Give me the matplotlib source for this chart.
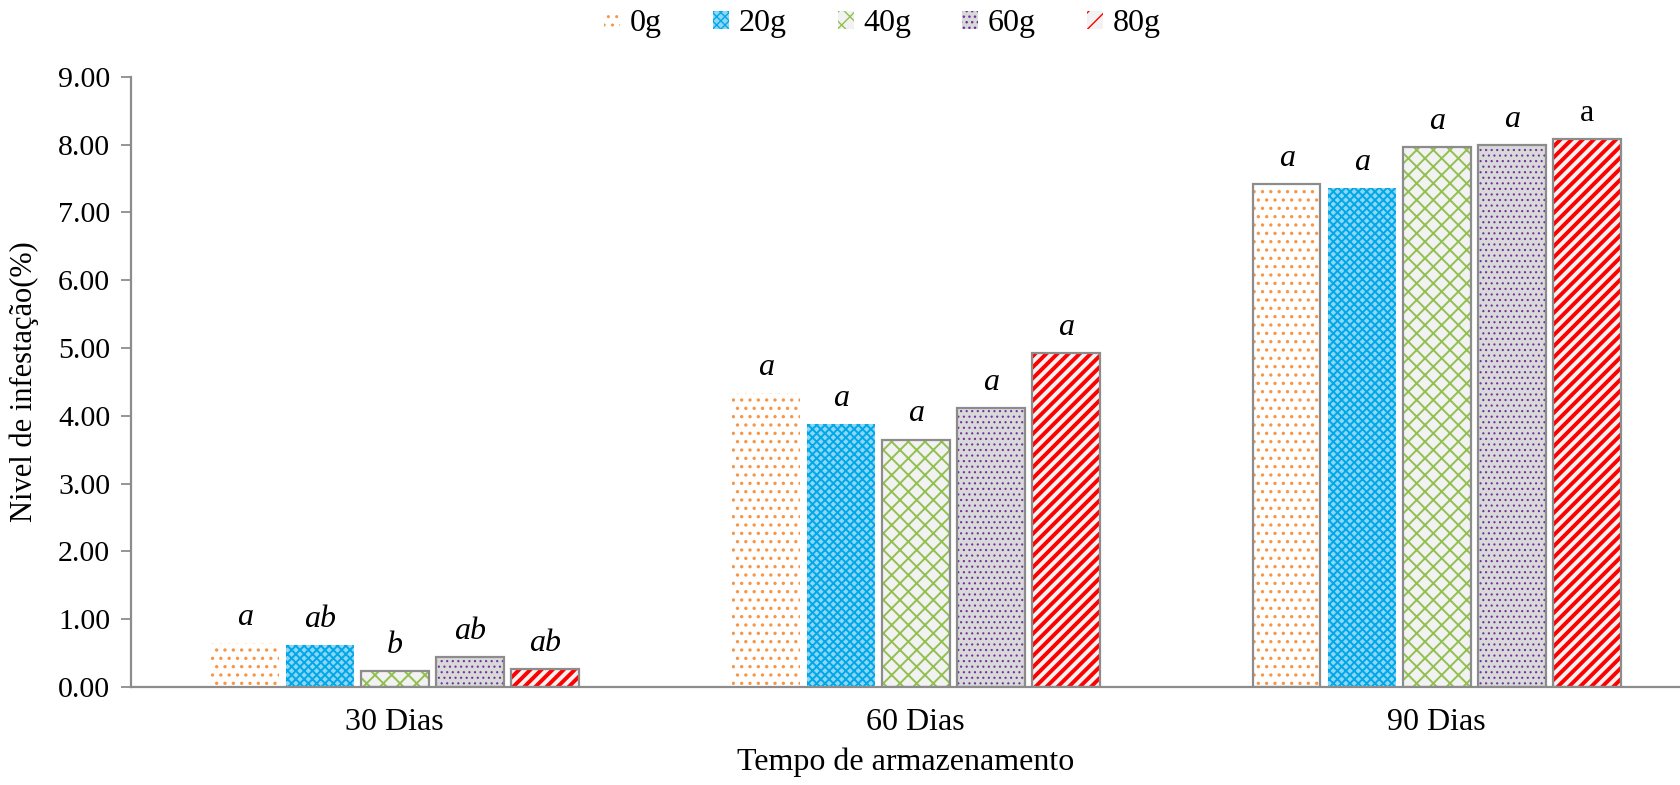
import numpy as np
import matplotlib.pyplot as plt
from matplotlib.patches import Patch

plt.rcParams['font.family'] = ['Liberation Serif', 'DejaVu Serif']

dias = ['30 Dias', '60 Dias', '90 Dias']
doses = ['0g', '20g', '40g', '60g', '80g']
v0 = [0.65, 4.33, 7.42]
v20 = [0.62, 3.88, 7.36]
v40 = [0.24, 3.65, 7.97]
v60 = [0.44, 4.11, 8.00]
v80 = [0.27, 4.92, 8.08]
letras = [['a', 'a', 'a'], ['ab', 'a', 'a'], ['b', 'a', 'a'], ['ab', 'a', 'a'], ['ab', 'a', 'a']]
valores = [v0, v20, v40, v60, v80]

# face, hatch colour, hatch, hatch lw
estilos = [
    ('white', '#f79646', '..', 1.2),
    ('#8fd6f5', '#00a8e8', 'xxxx', 1.4),
    ('#f2f2f2', '#92c050', 'xx', 1.4),
    ('#d9d9d9', '#7030a0', '...', 0.8),
    ('#f2f2f2', '#ff0000', '///', 2.8),
]
borda = '#8c8c8c'

fig = plt.figure(figsize=(16.81, 7.85), dpi=100)
ax = fig.add_axes([0.078, 0.125, 0.922, 0.777])

x = np.arange(len(dias))
w = 0.13
passo = 0.144
handles = []
for i, (vals, est) in enumerate(zip(valores, estilos)):
    fc, hc, hatch, hlw = est
    pos = x + (i - 2) * passo
    with plt.rc_context({'hatch.linewidth': hlw}):
        bars = ax.bar(pos, vals, width=w, color=fc, edgecolor=hc, hatch=hatch, linewidth=0)
        for b in bars:
            if hasattr(b, 'set_hatch_linewidth'):
                b.set_hatch_linewidth(hlw)
    if i == 0:
        # only the 90 day bar has a border
        ax.bar(pos[2], vals[2], width=w, fill=False, edgecolor=borda, linewidth=1.6)
    elif i >= 2:
        ax.bar(pos, vals, width=w, fill=False, edgecolor=borda, linewidth=1.6)
    for j in range(len(dias)):
        estilo = 'normal' if (i == 4 and j == 2) else 'italic'
        ax.annotate(letras[i][j], (pos[j], vals[j]), xytext=(0, 13), textcoords='offset points',
                    ha='center', va='baseline', fontsize=23, fontstyle=estilo)
    hp = Patch(facecolor=fc, edgecolor=hc, hatch=hatch.replace('///', '//'), linewidth=0)
    handles.append(hp)

ax.set_xlim(-0.506, 2.469)
ax.set_ylim(0, 9)
ax.set_yticks(np.arange(0, 9.01, 1))
ax.set_yticklabels(['%.2f' % t for t in np.arange(0, 9.01, 1)])
ax.set_xticks(x)
ax.set_xticklabels(dias)
ax.tick_params(axis='x', length=0, labelsize=23, pad=15)
ax.tick_params(axis='y', length=7, width=1.3, color=borda, labelsize=21.5, pad=8, direction='out')
for s in ['top', 'right']:
    ax.spines[s].set_visible(False)
for s in ['left', 'bottom']:
    ax.spines[s].set_color(borda)
    ax.spines[s].set_linewidth(1.6)

ax.set_ylabel('Nivel de infestação(%)', fontsize=22, labelpad=14)
ax.set_xlabel('Tempo de armazenamento', fontsize=23, labelpad=8)

fig.legend(handles, doses, loc='upper center', bbox_to_anchor=(0.525, 1.025), ncol=5,
           frameon=False, fontsize=23, handlelength=0.5, handleheight=0.5,
           handletextpad=0.3, columnspacing=1.6)

fig.savefig('out.png', dpi=100)
